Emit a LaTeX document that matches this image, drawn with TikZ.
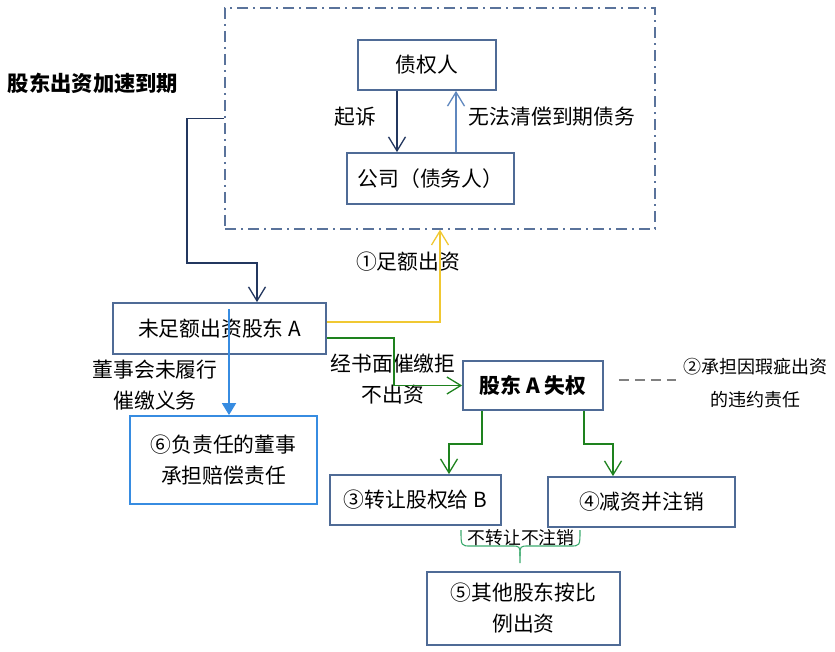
\documentclass[tikz,border=0pt]{standalone}
\usepackage{fontspec}
\setmainfont{Noto Sans CJK SC}
\usetikzlibrary{arrows.meta}
\definecolor{boxc}{RGB}{79,107,150}
\definecolor{framec}{RGB}{90,115,155}
\definecolor{navyc}{RGB}{35,55,95}
\definecolor{lightc}{RGB}{95,135,190}
\definecolor{yellowc}{RGB}{240,200,50}
\definecolor{greenc}{RGB}{30,130,30}
\definecolor{bluec}{RGB}{55,140,225}
\definecolor{grayc}{RGB}{128,128,128}
\definecolor{bracec}{RGB}{60,170,110}
\begin{document}
\begin{tikzpicture}[x=1pt,y=-1pt,
  box/.style={draw=boxc,line width=1.8pt,inner sep=0pt,font=\fontsize{20.8}{31}\selectfont,align=center},
  lbl/.style={inner sep=0pt,font=\fontsize{20.8}{31}\selectfont,align=center},
  barb/.style={-{Straight Barb[length=14pt,width=17pt,line width=1.3pt]}},
  conn/.style={line width=1.4pt}]
\useasboundingbox (0,0) rectangle (835,652);
% frame
\node (frame) [draw=framec,line width=1.5pt,dash pattern=on 11pt off 5pt on 2pt off 5pt,minimum width=430pt,minimum height=221pt,inner sep=0pt] at (440,118.5) {};
\node (title) [lbl,font=\fontsize{21.3}{25}\selectfont\bfseries] at (93,83) {股东出资加速到期};
% boxes
\node (cred) [box,minimum width=138pt,minimum height=50pt] at (427,65) {债权人};
\node (comp) [box,minimum width=167pt,minimum height=51pt] at (430.5,178.5) {公司（债务人）};
\node (shA) [box,minimum width=213pt,minimum height=51pt] at (219.5,328.5) {未足额出资股东 A};
\node (lost) [box,minimum width=140pt,minimum height=49pt,font=\fontsize{20.8}{31}\selectfont\bfseries] at (533,385.5) {股东 A 失权};
\node (b3) [box,minimum width=171pt,minimum height=50pt] at (415.5,500) {③转让股权给 B};
\node (b4) [box,minimum width=187pt,minimum height=50pt] at (641.5,502) {④减资并注销};
\node (b5) [box,minimum width=193pt,minimum height=73pt] at (523.5,608.5) {⑤其他股东按比\\例出资};
\node (b6) [box,draw=bluec,minimum width=187pt,minimum height=88pt] at (223.5,460) {⑥负责任的董事\\承担赔偿责任};
% labels
\node (lsue) [lbl] at (355,117) {起诉};
\node (lnopay) [lbl] at (552,117) {无法清偿到期债务};
\node (lfull) [lbl] at (408,262) {①足额出资};
\node (lwrit) [lbl] at (393,379) {经书面催缴拒\\不出资};
\node (l2) [lbl,font=\fontsize{18}{33}\selectfont] at (755,383.5) {②承担因瑕疵出资\\的违约责任};
\node (lboard) [lbl] at (155,385) {董事会未履行\\催缴义务};
\node (lnot) [lbl,font=\fontsize{17.8}{20}\selectfont] at (521,538) {不转让不注销};
% connectors
\draw[conn,navyc,barb] ([xshift=-30pt]cred.south) -- ([xshift=-30pt]cred.south |- comp.north);
\draw[conn,lightc,barb] ([xshift=25.5pt]comp.north) -- ([xshift=25.5pt]comp.north |- cred.south);
\draw[conn,navyc,barb] (frame.west) -| (187,263) -| ([xshift=37.5pt]shA.north);
\draw[conn,yellowc,barb] ([yshift=6.5pt]shA.east) -| (frame.south);
\draw[conn,greenc,barb] ([yshift=-9.5pt]shA.east) -- ++(67,0) |- (lost.west);
\draw[conn,grayc,line width=1.3pt,dash pattern=on 10pt off 6pt] ([xshift=15pt,yshift=5.5pt]lost.east) -- ++(57,0);
\draw[conn,greenc,barb] ([xshift=-51pt]lost.south) -- ++(0,33) -| ([xshift=33.5pt]b3.north);
\draw[conn,greenc,barb] ([xshift=51pt]lost.south) -- ++(0,33) -| ([xshift=-28.5pt]b4.north);
\draw[conn,bluec,line width=1.8pt,-{Triangle[length=12pt,width=14pt]}] ([xshift=9.5pt,yshift=-7pt]shA.north) -- ([xshift=5.5pt]b6.north);
% brace
\draw[bracec,line width=1.1pt] (461,530) .. controls (461,546) .. (471,546) -- (511,546) .. controls (520,546) .. (520,556) -- (520,563);
\draw[bracec,line width=1.1pt] (580,530) .. controls (580,546) .. (570,546) -- (529,546) .. controls (520,546) .. (520,556);
\end{tikzpicture}
\end{document}
